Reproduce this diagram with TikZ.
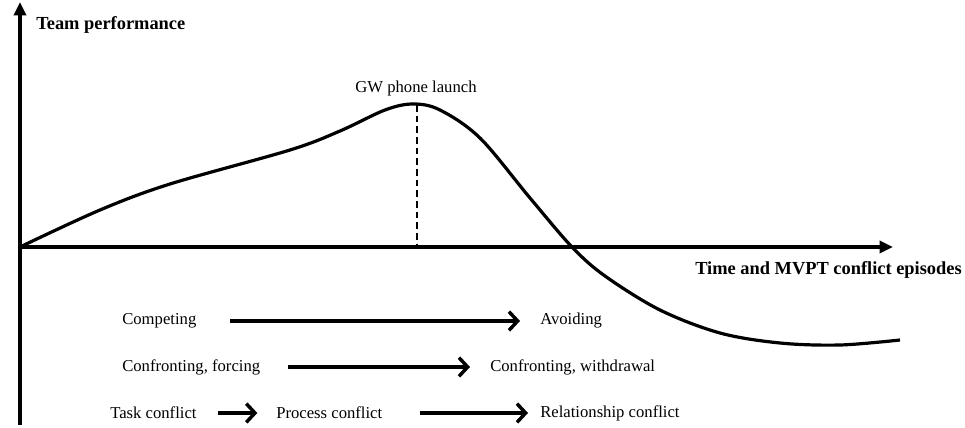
\documentclass[tikz,border=0pt]{standalone}
\usepackage{fontspec}
\setmainfont{Liberation Serif}
\usetikzlibrary{arrows.meta,positioning,calc}

\tikzset{
  lbl/.style={inner sep=0pt,anchor=west,font=\fontsize{12.5}{15}\selectfont},
  axlbl/.style={inner sep=0pt,font=\fontsize{13.8}{16}\selectfont\bfseries},
  axis/.style={line width=2.6pt,-{Triangle[length=10pt,width=9pt]}},
  moveto/.style={line width=2.6pt,-{Straight Barb[length=6.5pt,width=14pt,line width=2.6pt]}}
}

\begin{document}
\begin{tikzpicture}[x=0.75pt,y=-0.75pt]
    \useasboundingbox (0,0) rectangle (965,428);
    % Axes
    \coordinate (o) at (20,247);
    \coordinate (ytop) at (20,2);
    \coordinate (ybot) at (20,425);
    \coordinate (xend) at (893,247);
    \draw[axis] (ybot) -- (ytop);
    \draw[axis] (18,247) -- (xend);
    \node[axlbl,anchor=west] (perf) at (36,25) {Team performance};
    \node[axlbl,anchor=east] (time) at (962,270) {Time and MVPT conflict episodes};
    % Performance curve
    \draw[line width=2.4pt,smooth,tension=0.55] plot coordinates {(20,247) (100,210) (170,184) (290,150) (340,131) (385,110) (413,104) (440,110) (480,138) (530,198) (572,247) (605,276) (660,310) (720,333) (780,343) (840,345) (900,340)};
    % Launch marker
    \coordinate (peak) at (417,105);
    \coordinate (foot) at (417,245);
    \draw[line width=1.9pt,dash pattern=on 5pt off 3pt] (peak) -- (foot);
    \node[lbl,anchor=center] (launch) at (416,88) {GW phone launch};
    % Conflict management shifts
    \node[lbl] (comp) at (122,321) {Competing};
    \node[lbl] (avoid) at (540,321) {Avoiding};
    \draw[moveto,shorten <=25pt,shorten >=15pt] (comp) -- (avoid);
    \node[lbl] (force) at (122,367) {Confronting, forcing};
    \node[lbl] (withd) at (490,367) {Confronting, withdrawal};
    \draw[moveto,shorten <=21pt,shorten >=15pt] (force) -- (withd);
    % Conflict types
    \node[lbl] (task) at (110,413) {Task conflict};
    \node[lbl] (proc) at (276,413) {Process conflict};
    \node[lbl] (rel) at (540,413) {Relationship conflict};
    \draw[moveto,shorten <=16pt,shorten >=14pt] (task) -- (proc);
    \draw[moveto,shorten <=28pt,shorten >=9pt] (proc) -- (rel);
\end{tikzpicture}
\end{document}
